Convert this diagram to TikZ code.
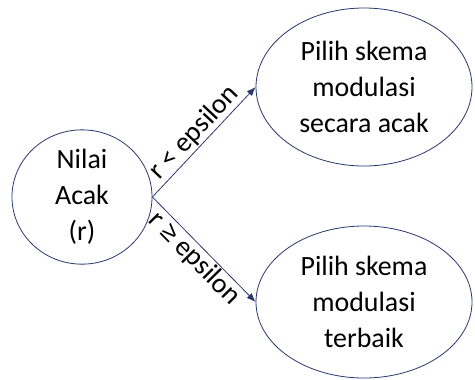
\documentclass[tikz,border=0pt]{standalone}
\usepackage{fontspec}
\setmainfont{Carlito}
\newfontfamily\relfont{Liberation Sans}
\usetikzlibrary{shapes.geometric,arrows.meta}
\definecolor{edgeblue}{RGB}{40,56,110}
\tikzset{
  bubble/.style={ellipse, draw=edgeblue, line width=0.8bp, inner sep=0pt,
    align=center, font=\fontsize{28}{36}\selectfont},
  link/.style={draw=edgeblue, line width=0.8bp, -{Latex[length=9bp,width=7bp]}},
  cond/.style={font=\fontsize{28}{30}\selectfont, sloped, midway, inner sep=1bp}
}
\begin{document}
\begin{tikzpicture}[x=1bp,y=-1bp]
  \useasboundingbox (0,0) rectangle (475,379);
  \node[bubble, minimum width=140bp, minimum height=120bp] (rand) at (82,197)
    {Nilai\\Acak\\(r)};
  \node[bubble, minimum width=216bp, minimum height=158bp] (randsel) at (364,87)
    {Pilih skema\\modulasi\\secara acak};
  \node[bubble, minimum width=216bp, minimum height=152bp] (bestsel) at (364,302)
    {Pilih skema\\modulasi\\terbaik};
  \draw[link] (rand.east) -- node[cond, above] {r < epsilon} (randsel.west);
  \draw[link] (rand.east) -- node[cond, below] {r {\relfont\fontsize{26}{30}\selectfont ≥} epsilon} (bestsel.west);
\end{tikzpicture}
\end{document}
